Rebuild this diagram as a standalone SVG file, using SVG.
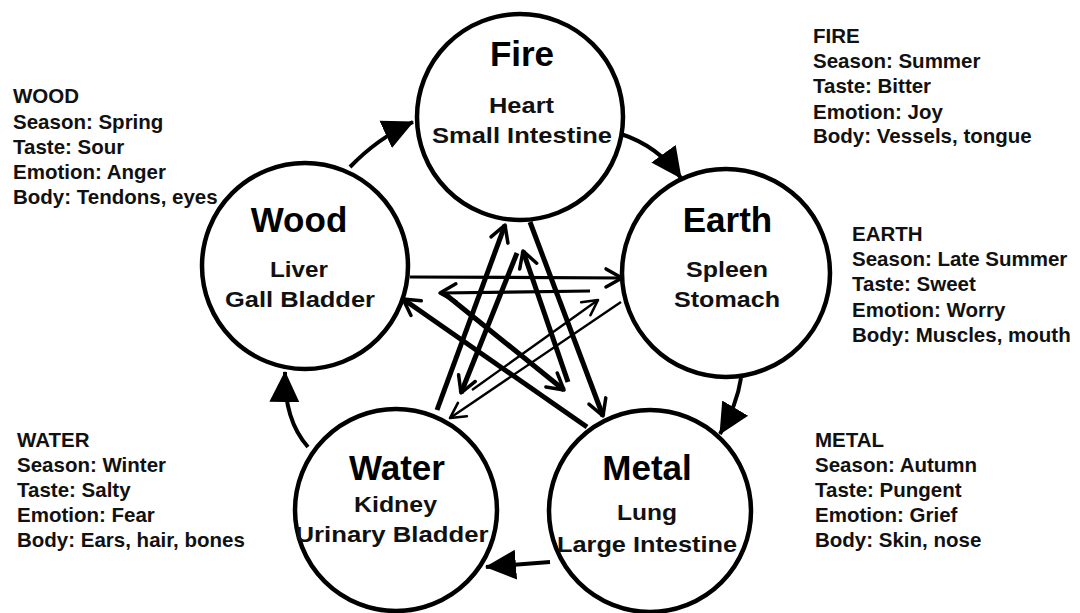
<svg xmlns="http://www.w3.org/2000/svg" width="1080" height="613" viewBox="0 0 1080 613">
<style>
.bg{fill:#fff}
.node{fill:none;stroke:#000;stroke-width:4.5}
.title{font-family:"Liberation Sans",Arial,sans-serif;font-weight:bold;font-size:35px;fill:#000;text-anchor:middle}
.sub{font-family:"Liberation Sans",Arial,sans-serif;font-weight:bold;font-size:22px;fill:#111;text-anchor:middle}
.info{font-family:"Liberation Sans",Arial,sans-serif;font-weight:bold;font-size:20.5px;fill:#111}
.cyc{fill:none;stroke:#000;stroke-width:4;marker-end:url(#tri)}
.thick{fill:none;stroke:#000;stroke-width:5;marker-end:url(#chev)}
.mid{fill:none;stroke:#000;stroke-width:3.2;marker-end:url(#chev)}
.thin{fill:none;stroke:#000;stroke-width:2.4;marker-end:url(#chevs)}
</style>
<defs>
<marker id="tri" markerUnits="userSpaceOnUse" markerWidth="32" markerHeight="32" viewBox="0 0 32 32" refX="30" refY="16" orient="auto">
<path d="M0,1 L31,16 L0,31 Z" fill="#000"/>
</marker>
<marker id="chev" markerUnits="userSpaceOnUse" markerWidth="24" markerHeight="24" viewBox="0 0 24 24" refX="20" refY="12" orient="auto">
<path d="M4,3 L20,12 L4,21" fill="none" stroke="#000" stroke-width="3.5" stroke-linecap="round" stroke-linejoin="round"/>
</marker>
<marker id="chevs" markerUnits="userSpaceOnUse" markerWidth="24" markerHeight="24" viewBox="0 0 24 24" refX="20" refY="12" orient="auto">
<path d="M5,4 L20,12 L5,20" fill="none" stroke="#000" stroke-width="2.6" stroke-linecap="round" stroke-linejoin="round"/>
</marker>
</defs>
<rect class="bg" x="0" y="0" width="1080" height="613"/>

<g id="connectors">
<path class="cyc" d="M350,167 Q378,138 413,122"/>
<path class="cyc" d="M621,134 Q658,146 681,178"/>
<path class="cyc" d="M741,378 Q737,405 720,434"/>
<path class="cyc" d="M550,562 L486,567"/>
<path class="cyc" d="M308,447 Q284,420 285,372"/>

<path class="thick" d="M530,222 L603,416"/>
<path class="thick" d="M437,410 L505,225"/>
<path class="thick" d="M517,253 L461,393"/>
<path class="thick" d="M568,382 L523,251"/>
<path class="mid" d="M410,277 L622,278"/>
<path class="mid" d="M590,291 L440,293"/>
<path class="thick" d="M587,427 L403,299"/>
<path class="thick" d="M445,294 L564,390"/>
<path class="thin" d="M621,302 L450,418"/>
<path class="thin" d="M472,390 L598,300"/>
</g>

<g id="fire">
<circle class="node" cx="520" cy="117" r="103"/>
<text class="title" x="522" y="66">Fire</text>
<text class="sub" x="521.5" y="113" textLength="65" lengthAdjust="spacingAndGlyphs">Heart</text>
<text class="sub" x="522" y="143" textLength="180" lengthAdjust="spacingAndGlyphs">Small Intestine</text>
</g>
<g id="wood">
<circle class="node" cx="305" cy="266" r="103"/>
<text class="title" x="299" y="232">Wood</text>
<text class="sub" x="299" y="277" textLength="58" lengthAdjust="spacingAndGlyphs">Liver</text>
<text class="sub" x="300" y="307" textLength="150" lengthAdjust="spacingAndGlyphs">Gall Bladder</text>
</g>
<g id="earth">
<circle class="node" cx="726" cy="273" r="104"/>
<text class="title" x="727.5" y="232">Earth</text>
<text class="sub" x="727" y="277" textLength="82" lengthAdjust="spacingAndGlyphs">Spleen</text>
<text class="sub" x="727" y="307" textLength="106" lengthAdjust="spacingAndGlyphs">Stomach</text>
</g>
<g id="water">
<circle class="node" cx="396" cy="510" r="101"/>
<text class="title" x="397" y="480">Water</text>
<text class="sub" x="395.5" y="512" textLength="83" lengthAdjust="spacingAndGlyphs">Kidney</text>
<text class="sub" x="392" y="542" textLength="193" lengthAdjust="spacingAndGlyphs">Urinary Bladder</text>
</g>
<g id="metal">
<circle class="node" cx="650" cy="511" r="101"/>
<text class="title" x="647" y="480">Metal</text>
<text class="sub" x="647" y="520" textLength="60" lengthAdjust="spacingAndGlyphs">Lung</text>
<text class="sub" x="647" y="552" textLength="180" lengthAdjust="spacingAndGlyphs">Large Intestine</text>
</g>

<g id="info-wood" class="info">
<text x="13" y="103">WOOD</text>
<text x="13" y="129">Season: Spring</text>
<text x="13" y="154">Taste: Sour</text>
<text x="13" y="179">Emotion: Anger</text>
<text x="13" y="204">Body: Tendons, eyes</text>
</g>
<g id="info-fire" class="info">
<text x="813" y="43">FIRE</text>
<text x="813" y="68">Season: Summer</text>
<text x="813" y="93">Taste: Bitter</text>
<text x="813" y="119">Emotion: Joy</text>
<text x="813" y="143">Body: Vessels, tongue</text>
</g>
<g id="info-earth" class="info">
<text x="852" y="241">EARTH</text>
<text x="852" y="266">Season: Late Summer</text>
<text x="852" y="291">Taste: Sweet</text>
<text x="852" y="317">Emotion: Worry</text>
<text x="852" y="342">Body: Muscles, mouth</text>
</g>
<g id="info-water" class="info">
<text x="17" y="447">WATER</text>
<text x="17" y="472">Season: Winter</text>
<text x="17" y="497">Taste: Salty</text>
<text x="17" y="522">Emotion: Fear</text>
<text x="17" y="547">Body: Ears, hair, bones</text>
</g>
<g id="info-metal" class="info">
<text x="815" y="447">METAL</text>
<text x="815" y="472">Season: Autumn</text>
<text x="815" y="497">Taste: Pungent</text>
<text x="815" y="522">Emotion: Grief</text>
<text x="815" y="547">Body: Skin, nose</text>
</g>
</svg>
